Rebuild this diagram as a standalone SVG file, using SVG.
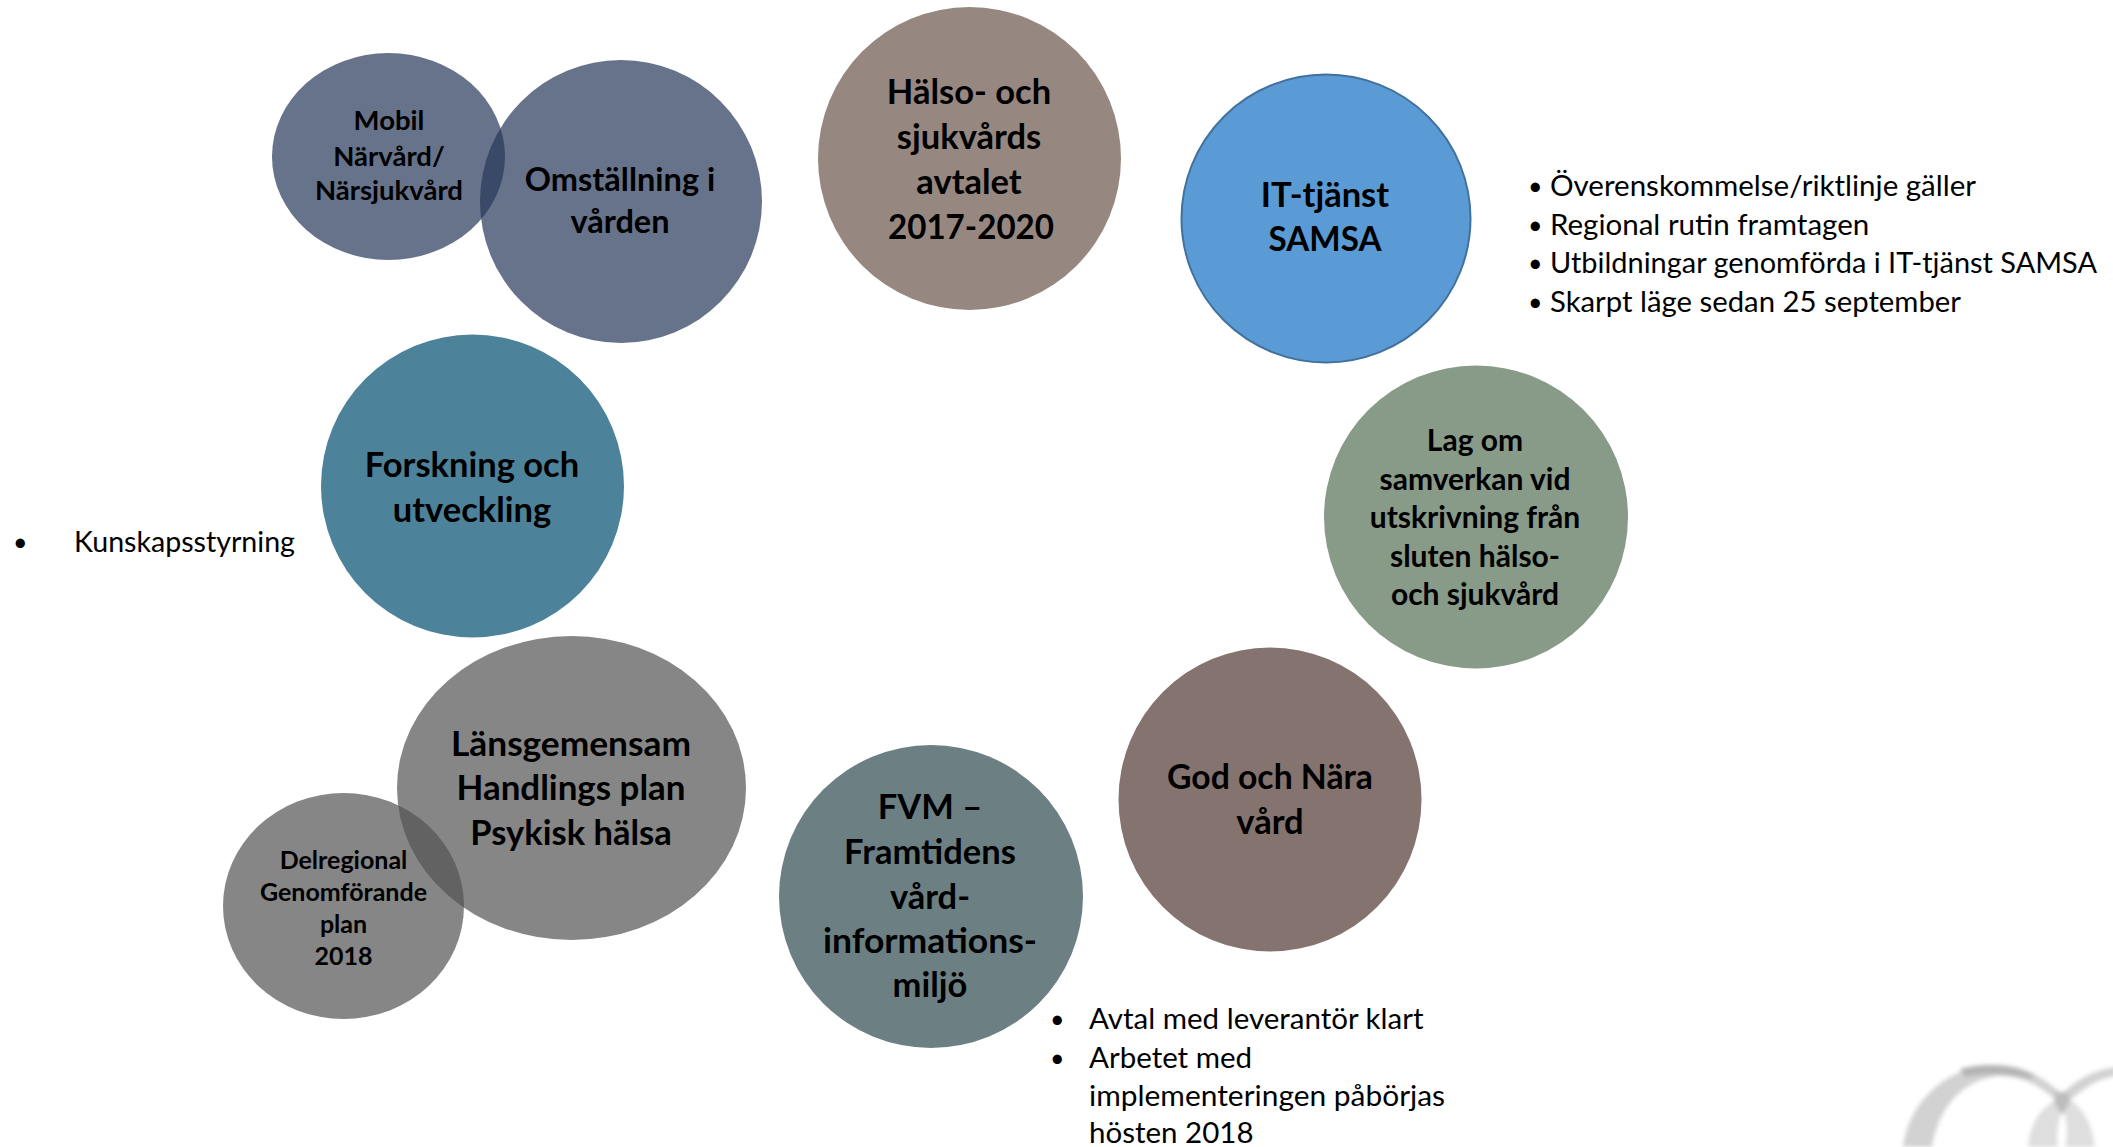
<svg xmlns="http://www.w3.org/2000/svg" width="2113" height="1147" viewBox="0 0 2113 1147">
<defs>
<style>
text{font-family:Lato,"Liberation Sans",sans-serif;fill:#000}
.n text{font-weight:700;text-anchor:middle}
.l{font-size:34.5px}
.m{font-size:30px}
.o{font-size:32.500px}
.s{font-size:27.5px}
.x{font-size:25px}
.b text{font-size:29.5px}
.b .d{font-size:25px}
.blue{fill:#273758;fill-opacity:.7}
.grey{fill:#525252;fill-opacity:.7}
</style>
<filter id="blur" x="-20%" y="-20%" width="140%" height="140%"><feGaussianBlur stdDeviation="2.2"/></filter>
</defs>
<g id="mobil" class="n"><ellipse class="blue" cx="388.500" cy="156.500" rx="116.500" ry="103.500"/><text class="s" x="389" y="130">Mobil</text><text class="s" x="389" y="166">Närvård/</text><text class="s" x="389" y="200">Närsjukvård</text></g>
<g id="omstallning" class="n"><ellipse class="blue" cx="621" cy="201.500" rx="141" ry="141.500"/><text class="o" x="620" y="191">Omställning i</text><text class="o" x="620" y="233">vården</text></g>
<g id="halso" class="n"><ellipse cx="969.500" cy="158.500" rx="151.500" ry="151.500" fill="#968880"/><text class="l" x="969" y="104">Hälso- och</text><text class="l" x="969" y="149">sjukvårds</text><text class="l" x="969" y="194">avtalet</text><text class="l" x="971" y="239" textLength="166" lengthAdjust="spacingAndGlyphs">2017-2020</text></g>
<g id="it-tjanst" class="n"><ellipse cx="1326" cy="218.500" rx="144.500" ry="144" fill="#5b9bd5" stroke="#41719c" stroke-width="2"/><text class="l" x="1325" y="207">IT-tjänst</text><text class="l" x="1325" y="251" textLength="113" lengthAdjust="spacingAndGlyphs">SAMSA</text></g>
<g id="forskning" class="n"><ellipse cx="472.500" cy="486" rx="151.500" ry="151.500" fill="#4d829b"/><text class="l" x="472" y="476.500">Forskning och</text><text class="l" x="472" y="521.500">utveckling</text></g>
<g id="lag" class="n"><ellipse cx="1476" cy="517" rx="152" ry="151.500" fill="#889a88"/><text class="m" x="1475" y="451">Lag om</text><text class="m" x="1475" y="490">samverkan vid</text><text class="m" x="1475" y="528">utskrivning från</text><text class="m" x="1475" y="567">sluten hälso-</text><text class="m" x="1475" y="605">och sjukvård</text></g>
<g id="god" class="n"><ellipse cx="1270" cy="799.500" rx="151.500" ry="152" fill="#85736f"/><text class="l" x="1270" y="789" textLength="206" lengthAdjust="spacingAndGlyphs">God och Nära</text><text class="l" x="1270" y="834">vård</text></g>
<g id="fvm" class="n"><ellipse cx="931" cy="896.500" rx="152" ry="151.500" fill="#6c8084"/><text class="l" x="930" y="819">FVM –</text><text class="l" x="930" y="864">Framtidens</text><text class="l" x="930" y="909">vård-</text><text class="l" x="930" y="953" textLength="214" lengthAdjust="spacingAndGlyphs">informations-</text><text class="l" x="930" y="997">miljö</text></g>
<g id="lansgemensam" class="n"><ellipse class="grey" cx="571.500" cy="788" rx="174.500" ry="152"/><text class="l" x="571" y="756" textLength="240" lengthAdjust="spacingAndGlyphs">Länsgemensam</text><text class="l" x="571" y="800" textLength="229" lengthAdjust="spacingAndGlyphs">Handlings plan</text><text class="l" x="571" y="845">Psykisk hälsa</text></g>
<g id="delregional" class="n"><ellipse class="grey" cx="343.500" cy="906" rx="120.500" ry="113"/><text class="x" x="343.500" y="869">Delregional</text><text class="x" x="343.500" y="901">Genomförande</text><text class="x" x="343.500" y="933">plan</text><text class="x" x="343.500" y="965">2018</text></g>
<g id="it-notes" class="b"><text class="d" x="1528" y="195">•</text><text x="1550" y="196">Överenskommelse/riktlinje gäller</text><text class="d" x="1528" y="234">•</text><text x="1550" y="235">Regional rutin framtagen</text><text class="d" x="1528" y="272">•</text><text x="1550" y="273" textLength="547" lengthAdjust="spacingAndGlyphs">Utbildningar genomförda i IT-tjänst SAMSA</text><text class="d" x="1528" y="311">•</text><text x="1550" y="312" textLength="411" lengthAdjust="spacingAndGlyphs">Skarpt läge sedan 25 september</text></g>
<g id="fvm-notes" class="b"><text class="d" x="1050" y="1028">•</text><text x="1089" y="1028.500">Avtal med leverantör klart</text><text class="d" x="1050" y="1067">•</text><text x="1089" y="1067.500">Arbetet med</text><text x="1089" y="1105.500" textLength="356" lengthAdjust="spacingAndGlyphs">implementeringen påbörjas</text><text x="1089" y="1143">hösten 2018</text></g>
<g id="forskning-notes" class="b"><text class="d" x="13" y="551">•</text><text x="74" y="552" textLength="221" lengthAdjust="spacingAndGlyphs">Kunskapsstyrning</text></g>
<g id="logo" filter="url(#blur)">
<path d="M1903 1147C1909 1103 1945 1065 1997 1065C2025 1065 2045 1079 2062 1094C2075 1081 2092 1070 2116 1067V1076C2095 1079 2078 1092 2065 1105L2060 1103C2042 1088 2025 1075 1997 1076C1960 1081 1938 1110 1932 1147Z" fill="#d2d2d2"/>
<path d="M1960 1069C1985 1062 2015 1064 2035 1076L2030 1079C2010 1073 1985 1073 1965 1077Z" fill="#b4b4b4"/>
<path d="M2028 1147C2030 1125 2040 1108 2056 1100L2062 1110C2058 1122 2056 1135 2058 1147Z" fill="#dedede"/>
<path d="M2095 1147C2092 1125 2085 1110 2070 1100L2063 1110C2068 1122 2068 1135 2065 1147Z" fill="#dedede"/>
<path d="M2056 1092H2068L2070 1102L2062 1115L2054 1102Z" fill="#bdbdbd"/>
</g>
</svg>
